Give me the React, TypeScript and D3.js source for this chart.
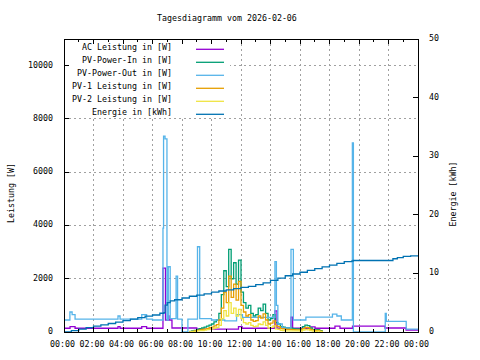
import React from "react";
import * as d3 from "d3";

const W = 480;
const H = 360;
const PL = 64, PR = 418, PT = 39, PB = 332;

const titleText = "Tagesdiagramm vom 2026-02-06";
const xTickHours = [0, 2, 4, 6, 8, 10, 12, 14, 16, 18, 20, 22, 24];
const xTickLabels = ["00:00", "02:00", "04:00", "06:00", "08:00", "10:00", "12:00", "14:00", "16:00", "18:00", "20:00", "22:00", "00:00"];
const yTicks = [0, 2000, 4000, 6000, 8000, 10000];
const y2Ticks = [0, 10, 20, 30, 40, 50];

// AC Leistung [W] (step breakpoints, hours)
const acTimes = [0, 0.41, 0.75, 3.66, 3.8, 5.27, 5.6, 6.71, 6.88, 7.05, 7.12, 7.32, 9.0, 11.83, 12.07, 14.3, 14.44, 15.39, 15.5, 16.68, 17.02, 18.37, 18.71, 19.56, 21.76, 23.19, 24];
const acValues = [140, 200, 140, 200, 140, 200, 140, 2400, 450, 600, 450, 150, 110, 200, 140, 790, 140, 560, 140, 190, 140, 220, 140, 220, 150, 75, 75];

// PV-Power-Out [W]
const outTimes = [0, 0.4, 0.55, 0.75, 3.66, 3.8, 5.27, 5.6, 6.0, 6.71, 6.75, 6.85, 6.98, 7.07, 7.2, 7.6, 7.7, 8.0, 8.4, 9.05, 9.2, 10.0, 10.9, 11.7, 12.1, 14.3, 14.4, 14.5, 14.8, 15.39, 15.55, 16.4, 18.2, 18.5, 18.8, 19.55, 19.62, 21.78, 21.85, 23.2, 24];
const outValues = [450, 750, 650, 480, 600, 480, 650, 480, 450, 3900, 7350, 7250, 450, 2450, 500, 2100, 480, 0, 480, 3200, 500, 450, 420, 650, 550, 2640, 1000, 300, 150, 3100, 450, 560, 670, 600, 450, 7100, 0, 700, 400, 110, 110];

// Daytime series, 10-minute samples from 08:30 to 17:30
const dayTimes = d3.range(0, 55).map((i) => 8.5 + i / 6);
const pvInValues = [20, 40, 60, 100, 130, 150, 180, 220, 260, 300, 380, 450, 700, 1400, 2300, 1700, 3100, 2000, 2600, 1800, 2700, 1500, 1100, 900, 1000, 700, 600, 650, 900, 800, 1050, 700, 450, 500, 650, 350, 300, 200, 180, 150, 150, 150, 130, 120, 120, 110, 200, 260, 240, 150, 100, 80, 90, 50, 0];
const pv1Values = [10, 25, 40, 60, 80, 100, 110, 130, 160, 180, 230, 280, 450, 900, 1500, 1100, 2100, 1300, 1800, 1200, 1900, 1000, 750, 600, 650, 450, 400, 430, 600, 520, 680, 450, 300, 330, 420, 230, 200, 130, 120, 100, 100, 100, 90, 80, 80, 75, 130, 170, 160, 100, 70, 50, 60, 30, 0];
const pv2Values = [10, 15, 20, 40, 50, 50, 70, 90, 100, 120, 150, 170, 250, 500, 800, 600, 1100, 700, 900, 600, 850, 500, 350, 300, 350, 250, 200, 220, 300, 280, 380, 250, 150, 170, 230, 120, 100, 60, 50, 40, 40, 40, 40, 40, 40, 30, 70, 90, 80, 50, 30, 20, 30, 10, 0];

// Energie [kWh]
const enTimes = [0, 0.5, 1, 1.5, 2, 2.5, 3, 3.5, 4, 4.5, 5, 5.5, 6, 6.5, 6.78, 6.85, 7.0, 7.2, 7.5, 8, 8.5, 9, 9.5, 10, 10.5, 11, 11.5, 12, 12.5, 13, 13.5, 14, 14.5, 15, 15.5, 16, 16.5, 17, 17.5, 18, 18.5, 19, 19.5, 19.6, 22, 22.3, 22.6, 23, 23.5, 24];
const enValues = [0, 0.25, 0.5, 0.75, 1.0, 1.2, 1.45, 1.7, 1.95, 2.2, 2.45, 2.7, 2.9, 3.2, 3.3, 4.6, 5.0, 5.3, 5.5, 5.8, 6.1, 6.3, 6.5, 6.8, 7.0, 7.2, 7.4, 7.6, 7.8, 8.1, 8.4, 8.8, 9.2, 9.6, 9.9, 10.2, 10.5, 10.8, 11.1, 11.4, 11.7, 12.0, 12.1, 12.2, 12.2, 12.5, 12.7, 12.9, 13.0, 13.1];

const legendLabels = ["AC Leistung in [W]", "PV-Power-In in [W]", "PV-Power-Out in [W]", "PV-1 Leistung in [W]", "PV-2 Leistung in [W]", "Energie in [kWh]"];
const colors = ["#9400d3", "#009e73", "#56b4e9", "#e69f00", "#f0e442", "#0072b2"];

const FONT = "'DejaVu Sans Mono', monospace";
const FS = 8.3;
const LW = 1.3;

export default function App() {
  const x = d3.scaleLinear().domain([0, 24]).range([PL, PR]);
  const y = d3.scaleLinear().domain([0, 11000]).range([PB, PT]);
  const y2 = d3.scaleLinear().domain([0, 50]).range([PB, PT]);

  const mk = (scale: d3.ScaleLinear<number, number>) =>
    d3
      .line<[number, number]>()
      .x((d) => x(d[0]))
      .y((d) => scale(d[1]))
      .curve(d3.curveStepAfter);

  const zip = (t: number[], v: number[]) => t.map((tt, i) => [tt, v[i]] as [number, number]);

  const series = [
    { d: mk(y)(zip(acTimes, acValues)), c: colors[0] },
    { d: mk(y)(zip(dayTimes, pvInValues)), c: colors[1] },
    { d: mk(y)(zip(outTimes, outValues)), c: colors[2] },
    { d: mk(y)(zip(dayTimes, pv1Values)), c: colors[3] },
    { d: mk(y)(zip(dayTimes, pv2Values)), c: colors[4] },
    { d: mk(y2)(zip(enTimes, enValues)), c: colors[5] },
  ];

  const hours = d3.range(0, 25);
  const legendRowY = (i: number) => 49.3 + i * 13;

  return (
    <svg
      width={W}
      height={H}
      style={{ position: "absolute", left: 0, top: 0, background: "#fff" }}
      fontFamily={FONT}
      fontSize={FS}
    >
      <rect x={0} y={0} width={W} height={H} fill="#fff" />
      <defs>
        <clipPath id="plotclip">
          <rect x={PL} y={PT} width={PR - PL} height={PB - PT} />
        </clipPath>
      </defs>
      <text x={157} y={21} fill="#000">{titleText}</text>

      {/* grid */}
      <g stroke="#a0a0a0" strokeWidth={1} strokeDasharray="2,3" shapeRendering="crispEdges">
        {xTickHours.slice(1, -1).map((h) => (
          <line key={"gx" + h} x1={x(h)} x2={x(h)} y1={PT} y2={PB} />
        ))}
        {yTicks.slice(1).map((v) => (
          <line key={"gy" + v} x1={PL} x2={PR} y1={y(v)} y2={y(v)} />
        ))}
      </g>

      {/* opaque key box */}
      <rect x={PL + 1} y={PT + 1} width={165} height={78} fill="#fff" />

      {/* data */}
      <g clipPath="url(#plotclip)" fill="none" strokeWidth={LW}>
        {series.map((s, i) => (
          <path key={"s" + i} d={s.d || ""} stroke={s.c} />
        ))}
      </g>

      {/* border */}
      <rect x={PL} y={PT} width={PR - PL} height={PB - PT} fill="none" stroke="#000" strokeWidth={1} shapeRendering="crispEdges" />

      {/* ticks */}
      <g stroke="#000" strokeWidth={1} shapeRendering="crispEdges">
        {hours.map((h) => {
          const len = h % 2 === 0 ? 5 : 3;
          return (
            <g key={"t" + h}>
              <line x1={x(h)} x2={x(h)} y1={PB} y2={PB - len} />
              <line x1={x(h)} x2={x(h)} y1={PT} y2={PT + len} />
            </g>
          );
        })}
        {yTicks.map((v) => (
          <line key={"ty" + v} x1={PL} x2={PL + 5} y1={y(v)} y2={y(v)} />
        ))}
        {y2Ticks.map((v) => (
          <line key={"ty2" + v} x1={PR} x2={PR - 5} y1={y2(v)} y2={y2(v)} />
        ))}
      </g>

      {/* tick labels */}
      <g fill="#000">
        {xTickHours.map((h, i) => (
          <text key={"xl" + i} x={x(h) - 1.5} y={347} textAnchor="middle">
            {xTickLabels[i]}
          </text>
        ))}
        {yTicks.map((v) => (
          <text key={"yl" + v} x={53} y={y(v) + 2} textAnchor="end">
            {v}
          </text>
        ))}
        {y2Ticks.map((v) => (
          <text key={"y2l" + v} x={429} y={y2(v) + 2} textAnchor="start">
            {v}
          </text>
        ))}
        <text transform="translate(13.5,193) rotate(-90)" textAnchor="middle">Leistung [W]</text>
        <text transform="translate(455.5,194) rotate(-90)" textAnchor="middle">Energie [kWh]</text>
      </g>

      {/* legend */}
      <g>
        {legendLabels.map((l, i) => (
          <g key={"lg" + i}>
            <text x={172} y={legendRowY(i) + 1} textAnchor="end" fill="#000">
              {l}
            </text>
            <line x1={196} x2={224} y1={legendRowY(i)} y2={legendRowY(i)} stroke={colors[i]} strokeWidth={LW} />
          </g>
        ))}
      </g>
    </svg>
  );
}
